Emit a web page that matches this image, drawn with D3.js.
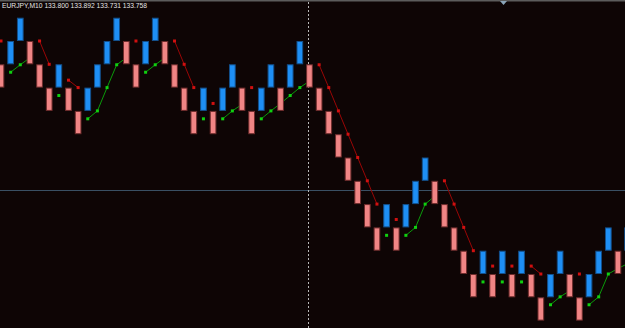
<!DOCTYPE html>
<html>
<head>
<meta charset="utf-8">
<title>EURJPY M10 renko</title>
<style>
  body { margin: 0; background: #0e0505; }
  svg { display: block; }
</style>
</head>
<body>
<script src="https://d3js.org/d3.v7.min.js"></script>
<script>
// chart header
var symbolLabel = "EURJPY,M10";
var quoteLabels = ["133.800", "133.892", "133.731", "133.758"];

// renko bricks, one per column (open / close price)
var brickOpen = [
  134.05, 134.05, 134.10, 134.10, 134.05, 134.00, 134.00, 134.00, 133.95, 133.95,
  134.00, 134.05, 134.10, 134.10, 134.05, 134.05, 134.10, 134.10, 134.05, 134.00,
  133.95, 133.95, 133.95, 133.95, 134.00, 134.00, 133.95, 133.95, 134.00, 134.00,
  134.00, 134.05, 134.05, 134.00, 133.95, 133.90, 133.85, 133.80, 133.75, 133.70,
  133.70, 133.70, 133.70, 133.75, 133.80, 133.80, 133.75, 133.70, 133.65, 133.60,
  133.60, 133.60, 133.60, 133.60, 133.60, 133.60, 133.55, 133.55, 133.60, 133.60,
  133.55, 133.55, 133.60, 133.65, 133.65, 133.65
];
var brickClose = [
  134.00, 134.10, 134.15, 134.05, 134.00, 133.95, 134.05, 133.95, 133.90, 134.00,
  134.05, 134.10, 134.15, 134.05, 134.00, 134.10, 134.15, 134.05, 134.00, 133.95,
  133.90, 134.00, 133.90, 134.00, 134.05, 133.95, 133.90, 134.00, 134.05, 133.95,
  134.05, 134.10, 134.00, 133.95, 133.90, 133.85, 133.80, 133.75, 133.70, 133.65,
  133.75, 133.65, 133.75, 133.80, 133.85, 133.75, 133.70, 133.65, 133.60, 133.55,
  133.65, 133.55, 133.65, 133.55, 133.65, 133.55, 133.50, 133.60, 133.65, 133.55,
  133.50, 133.60, 133.65, 133.70, 133.60, 133.70
];

// indicator buffers (null = empty)
var greenLine = [
  null, 134.033, 134.049, 134.064, null, null, 133.983, null, null, 133.933,
  133.950, 134.000, 134.049, 134.064, null, 134.033, 134.049, 134.064, null, null,
  null, 133.933, null, 133.933, 133.950, 133.964, null, 133.933, 133.950, 133.966,
  133.983, 134.000, 134.014, null, null, null, null, null, null, null,
  133.683, null, 133.683, 133.700, 133.750, 133.767, null, null, null, null,
  133.583, null, 133.583, null, 133.583, null, null, 133.534, 133.551, 133.564,
  null, 133.534, 133.551, 133.600, 133.612, 133.622
];
var redLine = [
  134.100, null, null, null, 134.100, 134.050, null, 134.016, 134.000, null,
  null, null, null, null, 134.100, null, null, null, 134.100, 134.050,
  134.000, null, 133.966, null, null, null, 134.000, null, null, null,
  null, null, null, 134.049, 134.000, 133.950, 133.900, 133.850, 133.800, 133.750,
  null, 133.717, null, null, null, null, 133.800, 133.750, 133.700, 133.650,
  null, 133.617, null, 133.617, null, 133.617, 133.600, null, null, null,
  133.600, null, null, null, null, null
];

var bidPrice = 133.780;
var separatorIndex = 32;

var width = 625, height = 328;

var svg = d3.select("body").append("svg")
    .attr("width", width)
    .attr("height", height);

svg.append("rect")
    .attr("width", width)
    .attr("height", height)
    .attr("fill", "#0e0505");

// scales: column index -> centre x, price -> y
var x = d3.scaleLinear().domain([0, 65]).range([1, 1 + 9.64 * 65]);
var y = d3.scaleLinear().domain([134.15, 133.50]).range([17.7, 17.7 + 23.3 * 13]);
var brickW = 6.7;

// bid line
svg.append("line")
    .attr("x1", 0).attr("x2", width)
    .attr("y1", Math.round(y(bidPrice)) + 0.5).attr("y2", Math.round(y(bidPrice)) + 0.5)
    .attr("stroke", "#3a5064")
    .attr("stroke-width", 1);

// vertical dashed line
svg.append("line")
    .attr("x1", Math.round(x(separatorIndex)) - 0.5).attr("x2", Math.round(x(separatorIndex)) - 0.5)
    .attr("y1", 2).attr("y2", height)
    .attr("stroke", "#b8b8b8")
    .attr("stroke-dasharray", "2,2")
    .attr("stroke-width", 1);

function drawIndicator(values, lineColor, dotColor) {
  var pts = values.map(function(v, i) { return {i: i, v: v}; });
  var line = d3.line()
      .defined(function(d) { return d.v !== null; })
      .x(function(d) { return x(d.i); })
      .y(function(d) { return y(d.v); });
  svg.append("path")
      .datum(pts)
      .attr("d", line)
      .attr("fill", "none")
      .attr("stroke", lineColor)
      .attr("stroke-width", 1);
  svg.selectAll(null)
      .data(pts.filter(function(d) { return d.v !== null; }))
      .enter().append("rect")
      .attr("x", function(d) { return x(d.i) - 1.5; })
      .attr("y", function(d) { return y(d.v) - 1.5; })
      .attr("width", 3)
      .attr("height", 3)
      .attr("fill", dotColor);
}

drawIndicator(greenLine, "#0a9a0a", "#10d010");
drawIndicator(redLine, "#9a0606", "#d01010");

// bricks
var bricks = brickOpen.map(function(o, i) {
  return {i: i, open: o, close: brickClose[i]};
});

svg.selectAll(".brick")
    .data(bricks)
    .enter().append("rect")
    .attr("class", "brick")
    .attr("x", function(d) { return x(d.i) - brickW / 2 + 0.5; })
    .attr("y", function(d) { return y(Math.max(d.open, d.close)) + 0.5; })
    .attr("width", brickW - 1)
    .attr("height", function(d) { return Math.abs(y(d.open) - y(d.close)) - 1; })
    .attr("fill", function(d) { return d.close > d.open ? "#1e8ff5" : "#f08585"; })
    .attr("stroke", function(d) { return d.close > d.open ? "#13508c" : "#6e2c2c"; })
    .attr("stroke-width", 1);

// top border and shift marker
svg.append("rect")
    .attr("x", 0).attr("y", 0)
    .attr("width", width).attr("height", 1.5)
    .attr("fill", "#5c5c5c");
svg.append("path")
    .attr("d", "M500,1 L507,1 L503.5,5 Z")
    .attr("fill", "#8aa4b8");

// header text
svg.append("text")
    .attr("x", 2)
    .attr("y", 8)
    .attr("fill", "#e6e6e6")
    .attr("font-family", "Liberation Sans, Arial, sans-serif")
    .attr("font-size", 7.5)
    .attr("textLength", 145)
    .attr("lengthAdjust", "spacingAndGlyphs")
    .text(symbolLabel + "  " + quoteLabels.join(" "));
</script>
</body>
</html>
